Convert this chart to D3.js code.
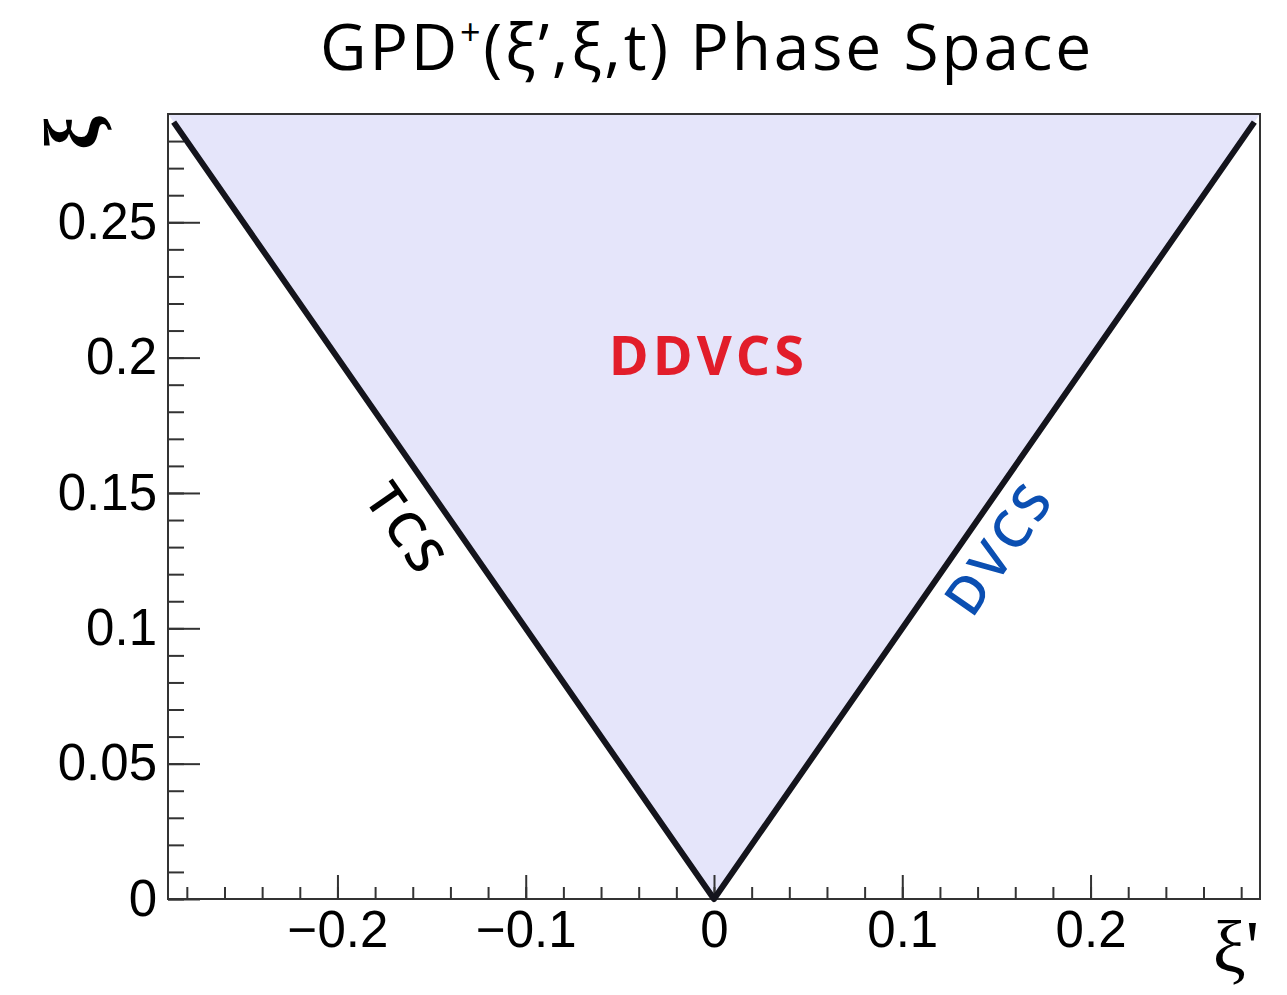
<!DOCTYPE html>
<html>
<head>
<meta charset="utf-8">
<script src="https://cdn.jsdelivr.net/npm/d3@7"></script>
<style>
  body { margin: 0; background: #fff; }
</style>
</head>
<body>
<div class="container"></div>
<script>
// ---- data ----
// kinematic boundary |xi'| = xi, drawn as a V
const edgeXiPrime = [-0.287, 0, 0.287];
const edgeXi = [0.287, 0, 0.287];
// shaded allowed region (fills up to the frame top)
const fillXiPrime = [-0.29, 0, 0.29];
const fillXi = [0.29, 0, 0.29];

const xMajor = [-0.2, -0.1, 0, 0.1, 0.2];
const xMajorLabels = ['\u22120.2', '\u22120.1', '0', '0.1', '0.2'];
const xMinor = d3.range(-28, 29, 2).map(d => d / 100);
const yMajor = [0, 0.05, 0.1, 0.15, 0.2, 0.25];
const yMajorLabels = ['0', '0.05', '0.1', '0.15', '0.2', '0.25'];
const yMinor = d3.range(0, 29, 1).map(d => d / 100);

const regionNames = ['DDVCS', 'TCS', 'DVCS'];
const regionX = [-0.003, -0.163, 0.1505];
const regionY = [0.2015, 0.137, 0.13];

// ---- layout ----
const width = 1287, height = 995;
const frameL = 168, frameR = 1260, frameT = 114, frameB = 899;

const svg = d3.select('.container')
  .append('svg')
  .attr('width', width)
  .attr('height', height);

const x = d3.scaleLinear().domain([-0.29, 0.29]).range([frameL, frameR]);
const y = d3.scaleLinear().domain([0, 0.29]).range([frameB, frameT]);

// title
const title = svg.append('text')
  .attr('x', 707)
  .attr('y', 70)
  .attr('text-anchor', 'middle')
  .style('font-family', '"Open Sans", sans-serif')
  .style('font-size', '64px')
  .style('letter-spacing', '2.8px')
  .attr('fill', '#000');
title.append('tspan').text('GPD');
title.append('tspan').attr('dy', -25).style('font-size', '36px').text('+');
title.append('tspan').attr('dy', 25).text('(\u03BE\u2019,\u03BE,t) Phase Space');

// shaded region
svg.append('clipPath').attr('id', 'frame-clip')
  .append('rect')
  .attr('x', frameL).attr('y', frameT)
  .attr('width', frameR - frameL).attr('height', frameB - frameT);

const poly = d3.line().x(d => x(d[0])).y(d => y(d[1]));
svg.append('path')
  .datum(d3.zip(fillXiPrime, fillXi))
  .attr('d', d => poly(d) + 'Z')
  .attr('clip-path', 'url(#frame-clip)')
  .attr('fill', '#e5e5fa');

// axes
const fontAxis = '"Liberation Sans", Arial, sans-serif';

function styleAxis(g) {
  g.select('.domain').remove();
  g.selectAll('.tick line').attr('stroke', '#333').attr('stroke-width', 2);
  g.selectAll('.tick text')
    .style('font-family', fontAxis)
    .style('font-size', '51px')
    .attr('fill', '#000');
}

svg.append('g')
  .attr('transform', `translate(0,${frameB})`)
  .call(d3.axisBottom(x).tickValues(xMinor).tickSize(-12).tickFormat(''))
  .call(styleAxis);
svg.append('g')
  .attr('transform', `translate(0,${frameB})`)
  .call(d3.axisBottom(x).tickValues(xMajor).tickSize(-24).tickPadding(12)
    .tickFormat((d, i) => xMajorLabels[i]))
  .call(styleAxis);

svg.append('g')
  .attr('transform', `translate(${frameL},0)`)
  .call(d3.axisLeft(y).tickValues(yMinor).tickSize(-16).tickFormat(''))
  .call(styleAxis);
svg.append('g')
  .attr('transform', `translate(${frameL},0)`)
  .call(d3.axisLeft(y).tickValues(yMajor).tickSize(-32).tickPadding(11)
    .tickFormat((d, i) => yMajorLabels[i]))
  .call(styleAxis);

// frame
svg.append('rect')
  .attr('x', frameL).attr('y', frameT)
  .attr('width', frameR - frameL).attr('height', frameB - frameT)
  .attr('fill', 'none')
  .attr('stroke', '#333')
  .attr('stroke-width', 2);

// boundary line
svg.append('path')
  .datum(d3.zip(edgeXiPrime, edgeXi))
  .attr('d', poly)
  .attr('fill', 'none')
  .attr('stroke', '#14141c')
  .attr('stroke-width', 6)
  .attr('stroke-linejoin', 'round');

// axis titles
svg.append('text')
  .attr('transform', 'translate(72,133) rotate(-90)')
  .attr('text-anchor', 'middle')
  .attr('dominant-baseline', 'central')
  .style('font-family', '"Liberation Serif", "DejaVu Serif", serif')
  .style('font-size', '76px')
  .style('font-weight', 700)
  .text('\u03BE');

svg.append('text')
  .attr('x', 1259)
  .attr('y', 972)
  .attr('text-anchor', 'end')
  .style('font-family', '"Liberation Serif", "DejaVu Serif", serif')
  .style('font-size', '74px')
  .text("\u03BE'");

// region labels
const slopeDeg = Math.atan((y(0) - y(0.1)) / (x(0.1) - x(0))) * 180 / Math.PI;
const labelColor = ['#e21d2a', '#000', '#0b4fb2'];
const labelRot = [0, slopeDeg, -slopeDeg];
const labelSize = [54, 50, 52];
const labelWeight = [700, 600, 600];

svg.selectAll('.region')
  .data(regionNames)
  .join('text')
  .attr('class', 'region')
  .attr('transform', (d, i) => `translate(${x(regionX[i])},${y(regionY[i])}) rotate(${labelRot[i]})`)
  .attr('text-anchor', 'middle')
  .attr('dominant-baseline', 'central')
  .style('font-family', '"Open Sans", sans-serif')
  .style('font-weight', (d, i) => labelWeight[i])
  .style('font-size', (d, i) => labelSize[i] + 'px')
  .style('letter-spacing', '4px')
  .attr('fill', (d, i) => labelColor[i])
  .text(d => d);
</script>
</body>
</html>
